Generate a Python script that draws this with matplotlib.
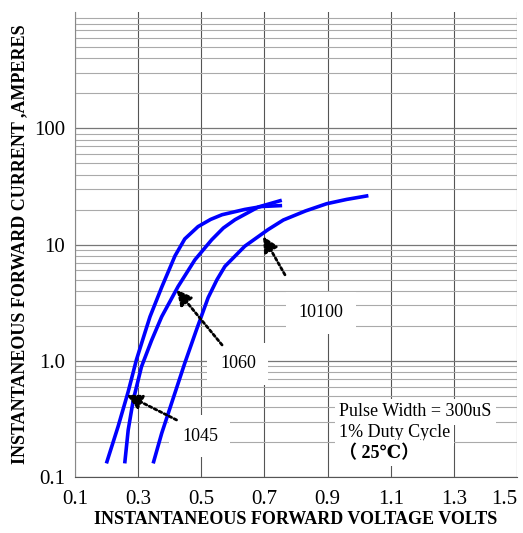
import matplotlib.pyplot as plt
from matplotlib.ticker import FixedLocator, NullFormatter, LogLocator

# forward voltage (V) vs forward current (A)
v_1045 = [0.200, 0.237, 0.269, 0.295, 0.322, 0.338, 0.375, 0.417, 0.448,
          0.490, 0.530, 0.566, 0.638, 0.692, 0.756]
i_1045 = [0.131, 0.272, 0.543, 1.02, 1.75, 2.4, 4.3, 8.0, 11.2,
          14.3, 16.5, 18.1, 20.1, 21.3, 21.7]

v_1060 = [0.258, 0.269, 0.285, 0.311, 0.343, 0.375, 0.427, 0.480, 0.533,
          0.570, 0.607, 0.681, 0.755]
i_1060 = [0.131, 0.254, 0.46, 0.89, 1.5, 2.4, 4.37, 7.4, 11.0,
          13.9, 16.4, 21.1, 24.1]

v_10100 = [0.348, 0.375, 0.406, 0.448, 0.485, 0.522, 0.550, 0.575, 0.638,
           0.712, 0.760, 0.830, 0.897, 0.960, 1.029]
i_10100 = [0.131, 0.238, 0.43, 0.955, 1.85, 3.5, 5.0, 6.5, 9.7,
           13.5, 16.3, 19.5, 22.5, 24.5, 26.4]

xticks = [0.1, 0.3, 0.5, 0.7, 0.9, 1.1, 1.3, 1.5]
yticks = [0.1, 1.0, 10, 100]
ytick_labels = ['0.1', '1.0', '10', '100']

serif = ['Liberation Serif', 'DejaVu Serif', 'Noto Sans CJK SC']
plt.rcParams['font.family'] = serif

fig = plt.figure(figsize=(5.23, 5.33), dpi=100)
ax = fig.add_axes([0.143, 0.105, 0.846, 0.872])

ax.set_yscale('log')
ax.set_xlim(0.1, 1.5)
ax.set_ylim(0.1, 1000)

ax.xaxis.set_major_locator(FixedLocator(xticks))
ax.set_xticklabels([f'{t:.1f}' for t in xticks])
ax.yaxis.set_major_locator(FixedLocator(yticks))
ax.set_yticklabels(ytick_labels)
ax.yaxis.set_minor_locator(LogLocator(base=10, subs=range(2, 10)))
ax.yaxis.set_minor_formatter(NullFormatter())
ax.tick_params(axis='both', which='both', length=0, labelsize=15)
ax.tick_params(axis='x', pad=9)
ax.tick_params(axis='y', pad=7)
ax.get_xticklabels()[-1].set_horizontalalignment('right')

ax.grid(True, which='major', axis='x', color='#555555', lw=0.8)
ax.grid(True, which='major', axis='y', color='#777777', lw=0.9)
ax.grid(True, which='minor', axis='y', color='#aaaaaa', lw=0.8)
for s in ['right', 'top']:
    ax.spines[s].set_visible(False)
ax.spines['left'].set_color('#888888')
ax.spines['bottom'].set_color('#555555')

for v, i in [(v_1045, i_1045), (v_1060, i_1060), (v_10100, i_10100)]:
    ax.plot(v, i, color='#0000ff', lw=2.6, solid_capstyle='butt',
            solid_joinstyle='round', zorder=3)

arrow = dict(arrowstyle='-|>,head_length=0.9,head_width=0.45', color='black',
             lw=2, linestyle=(0, (1, 1)), shrinkA=0, shrinkB=0)
box = dict(facecolor='white', edgecolor='none', pad=9)

ax.annotate('', xy=(0.696, 11.8), xytext=(0.765, 5.5), arrowprops=arrow, zorder=4)
ax.text(0.88, 2.6, '10100', fontsize=13, ha='center', va='center', bbox=box, zorder=2)

ax.annotate('', xy=(0.422, 4.09), xytext=(0.566, 1.37), arrowprops=arrow, zorder=4)
ax.text(0.616, 0.94, '1060', fontsize=13, ha='center', va='center', bbox=box, zorder=2)

ax.annotate('', xy=(0.264, 0.51), xytext=(0.422, 0.31), arrowprops=arrow, zorder=4)
ax.text(0.496, 0.225, '1045', fontsize=13, ha='center', va='center', bbox=box, zorder=2)

note = dict(facecolor='white', edgecolor='none', pad=3)
ax.text(0.936, 0.363, 'Pulse Width = 300uS', fontsize=13, va='center', zorder=2, bbox=note)
ax.text(0.936, 0.24, '1% Duty Cycle', fontsize=13, va='center', zorder=2, bbox=note)
ax.text(0.936, 0.16, '（ 25℃）', fontsize=13, va='center', fontweight='bold', zorder=2, bbox=note)

ax.set_xlabel('INSTANTANEOUS FORWARD VOLTAGE VOLTS', fontsize=13, fontweight='bold', labelpad=2)
ax.set_ylabel('INSTANTANEOUS FORWARD CURRENT ,AMPERES', fontsize=13, fontweight='bold', labelpad=4)

fig.savefig('out.png', dpi=100)
